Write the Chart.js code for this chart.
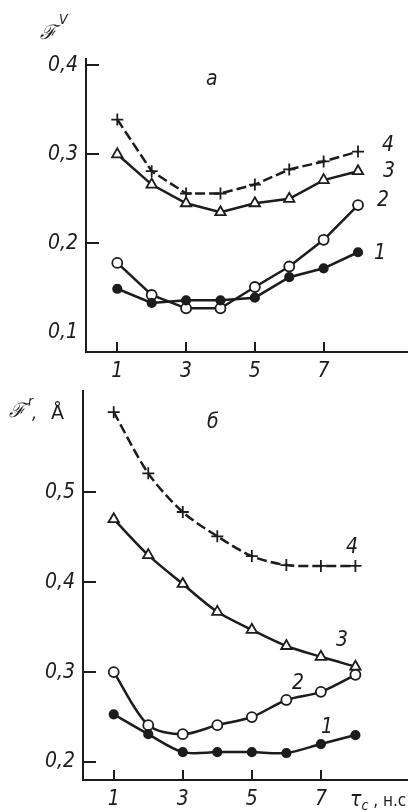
<!DOCTYPE html>
<html><head><meta charset="utf-8">
<script src="https://cdn.jsdelivr.net/npm/chart.js@4/dist/chart.umd.min.js"></script>
<style>
html,body{margin:0;padding:0;background:#fff;width:415px;height:812px;overflow:hidden;}
#wrap{position:relative;width:415px;height:812px;}
canvas{position:absolute;left:0;}
.t{position:absolute;font-family:'Liberation Sans Narrow','DejaVu Sans Condensed',sans-serif;font-style:italic;color:#1c1c1c;font-size:21px;line-height:1;white-space:nowrap;}
.f{font-family:'DejaVu Serif',serif;font-style:italic;}
</style></head><body><div id="wrap">
<canvas id="c1" width="415" height="390" style="top:0;width:415px;height:390px"></canvas>
<canvas id="c2" width="415" height="442" style="top:370px;width:415px;height:442px"></canvas>
<div class="t f" style="left:40px;top:22px;font-size:20px;">ℱ</div>
<div class="t" style="left:59px;top:12px;font-size:14px;">V</div>
<div class="t" style="left:206px;top:68px;">а</div>
<div class="t f" style="left:9px;top:400px;font-size:20px;">ℱ</div>
<div class="t" style="left:28px;top:394px;font-size:14px;">r</div>
<div class="t" style="left:32px;top:404px;font-size:18px;">,</div>
<div class="t" style="left:51px;top:403px;font-size:19px;font-style:normal;font-family:'DejaVu Sans',sans-serif;">Å</div>
<div class="t" style="left:207px;top:411px;">б</div>
<div class="t" style="left:350px;top:789px;font-size:21px;">τ<span style="font-size:14px;position:relative;top:4px;">c</span><span style="font-size:17px;font-style:normal;"> , н.с</span></div>
<div class="t" style="left:382px;top:134px;">4</div>
<div class="t" style="left:383px;top:160px;">3</div>
<div class="t" style="left:377px;top:189px;">2</div>
<div class="t" style="left:374px;top:242px;">1</div>
<div class="t" style="left:346px;top:536px;">4</div>
<div class="t" style="left:336px;top:629px;">3</div>
<div class="t" style="left:292px;top:672px;">2</div>
<div class="t" style="left:321px;top:716px;">1</div>
</div>
<script>
// ---- data ----
const xValues = [1, 2, 3, 4, 5, 6, 7, 8];
const xTickValues = [1, 3, 5, 7];

// panel а : F^V
const topS1 = [0.149, 0.133, 0.136, 0.136, 0.139, 0.162, 0.172, 0.190];
const topS2 = [0.178, 0.142, 0.127, 0.127, 0.151, 0.174, 0.204, 0.243];
const topS3 = [0.300, 0.266, 0.245, 0.235, 0.245, 0.250, 0.271, 0.281];
const topS4 = [0.339, 0.281, 0.256, 0.256, 0.266, 0.283, 0.292, 0.303];
const topYTicks = [0.1, 0.2, 0.3, 0.4];
const topYMarks = [0.2, 0.3, 0.4];

// panel б : F^r, Å
const botS1 = [0.253, 0.231, 0.211, 0.211, 0.211, 0.210, 0.220, 0.230];
const botS2 = [0.300, 0.241, 0.231, 0.241, 0.250, 0.269, 0.278, 0.297];
const botS3 = [0.470, 0.430, 0.398, 0.367, 0.347, 0.329, 0.317, 0.306];
const botS4 = [0.589, 0.521, 0.478, 0.451, 0.429, 0.419, 0.418, 0.418];
const botYTicks = [0.2, 0.3, 0.4, 0.5];

const INK = '#1c1c1c';
const FONT = "'Liberation Sans Narrow','DejaVu Sans Condensed',sans-serif";

function pts(arr){ return xValues.map((x,i)=>({x:x,y:arr[i]})); }

function datasets(s1,s2,s3,s4,tension){
  const base = {borderColor:INK, borderWidth:2.5, tension:tension, pointBorderColor:INK, pointBorderWidth:1.8, fill:false};
  return [
    Object.assign({}, base, {label:'1', data:pts(s1), pointStyle:'circle', pointRadius:4.2, pointBackgroundColor:INK}),
    Object.assign({}, base, {label:'2', data:pts(s2), pointStyle:'circle', pointRadius:5, pointBackgroundColor:'#fff'}),
    Object.assign({}, base, {label:'3', data:pts(s3), pointStyle:'triangle', pointRadius:6, pointBackgroundColor:'#fff'}),
    Object.assign({}, base, {label:'4', data:pts(s4), pointStyle:'cross', pointRadius:6, pointBorderWidth:1.8, borderDash:[10,4]})
  ];
}

function innerTicks(yMarks, xMarks){
  return {
    id:'innerTicks',
    afterDraw(chart){
      const ctx = chart.ctx, a = chart.chartArea;
      const xs = chart.scales.x, ys = chart.scales.y;
      ctx.save();
      ctx.setLineDash([]);
      ctx.strokeStyle = INK; ctx.lineWidth = 2;
      yMarks.forEach(v=>{
        const y = Math.round(ys.getPixelForValue(v));
        ctx.beginPath(); ctx.moveTo(a.left, y); ctx.lineTo(a.left+13, y); ctx.stroke();
      });
      xMarks.forEach(v=>{
        const x = Math.round(xs.getPixelForValue(v));
        ctx.beginPath(); ctx.moveTo(x, a.bottom); ctx.lineTo(x, a.bottom-10); ctx.stroke();
      });
      ctx.restore();
    }
  };
}

function makeChart(id, sets, yMin, yMax, xMin, xMax, yTicks, yMarks, yW, xH, pad){
  return new Chart(document.getElementById(id), {
    type:'line',
    data:{datasets:sets},
    plugins:[innerTicks(yMarks, xTickValues)],
    options:{
      responsive:false, animation:false, devicePixelRatio:1,
      layout:{padding:pad},
      plugins:{legend:{display:false}, tooltip:{enabled:false}},
      scales:{
        x:{type:'linear', min:xMin, max:xMax,
          afterBuildTicks(s){ s.ticks = xTickValues.map(v=>({value:v})); },
          afterFit(s){ s.height = xH; },
          grid:{display:false, drawTicks:false},
          border:{display:true, color:INK, width:2},
          ticks:{color:INK, padding:7, font:{family:FONT, size:21, style:'italic'}, callback:v=>String(v), maxRotation:0, autoSkip:false}
        },
        y:{type:'linear', min:yMin, max:yMax,
          afterBuildTicks(s){ s.ticks = yTicks.map(v=>({value:v})); },
          afterFit(s){ s.width = yW; },
          grid:{display:false, drawTicks:false},
          border:{display:true, color:INK, width:2},
          ticks:{color:INK, padding:8, font:{family:FONT, size:21, style:'italic'}, callback:v=>v.toFixed(1).replace('.', ','), autoSkip:false}
        }
      }
    }
  });
}

makeChart('c1', datasets(topS1,topS2,topS3,topS4,0), 0.078, 0.407, 0.09, 9.43, topYTicks, topYMarks, 86, 38, {top:59, right:2, left:0, bottom:0});
makeChart('c2', datasets(botS1,botS2,botS3,botS4,0.3), 0.18, 0.613, 0.11, 9.5, botYTicks, botYTicks, 83, 32, {top:20, right:5, left:0, bottom:0});
</script>
</body></html>
